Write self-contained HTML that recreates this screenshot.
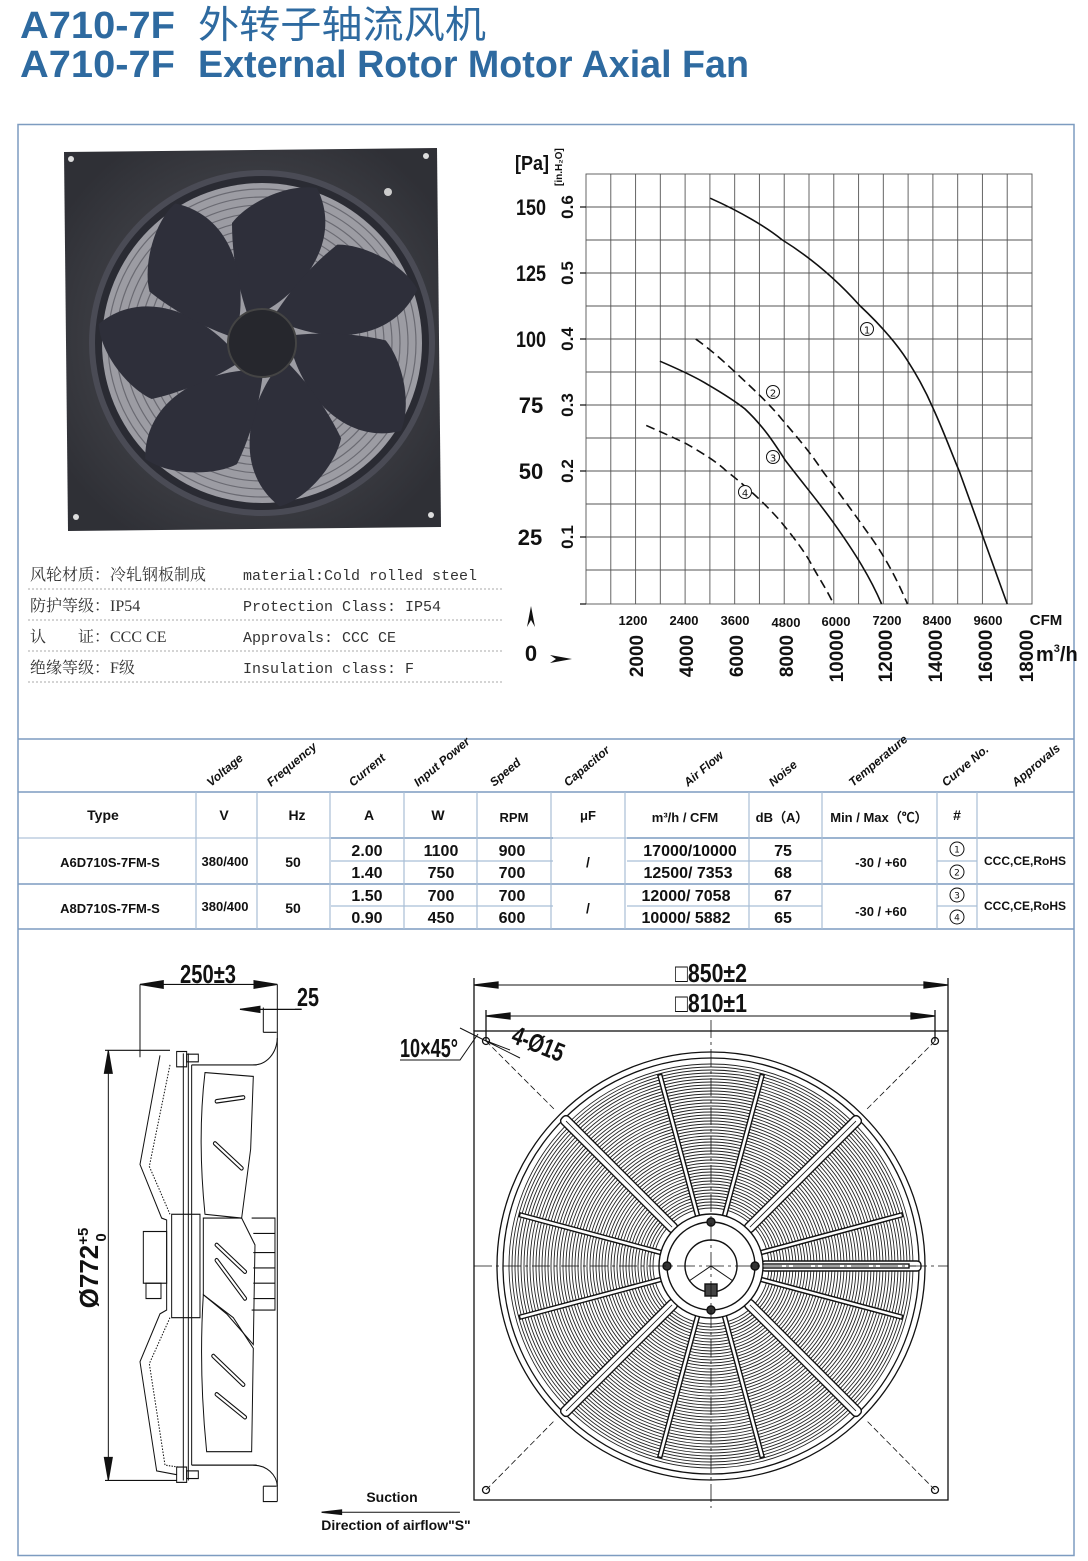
<!DOCTYPE html>
<html><head><meta charset="utf-8"><style>
html,body{margin:0;padding:0;background:#fff}
svg{display:block}
.n{font-family:"Liberation Sans Narrow","Liberation Sans",sans-serif;font-weight:bold;fill:#111}
.cj{font-family:"Liberation Serif","Noto Serif CJK SC",serif;fill:#333;font-size:16px}
.mo{font-family:"Liberation Mono",monospace;fill:#333;font-size:15px}
</style></head><body>
<svg width="1088" height="1561" viewBox="0 0 1088 1561" xmlns="http://www.w3.org/2000/svg">
<defs>
<radialGradient id="pg" cx="50%" cy="50%" r="60%"><stop offset="0" stop-color="#55565c"/><stop offset="1" stop-color="#2f3036"/></radialGradient>
<path id="blade" d="M0,-30 C45,-55 80,-105 55,-155 C25,-160 -15,-140 -30,-120 C-30,-90 -25,-60 -15,-30 Z" fill="#2e2f3a"/>
</defs>
<!-- Title -->
<text x="20" y="38" font-family="Liberation Sans,sans-serif" font-weight="bold" font-size="38" fill="#2e6aa0" textLength="155" lengthAdjust="spacingAndGlyphs">A710-7F</text>
<text x="198" y="38" font-family="Noto Sans CJK SC,sans-serif" font-size="38" fill="#2e6aa0" textLength="288" lengthAdjust="spacingAndGlyphs">外转子轴流风机</text>
<text x="20" y="77" font-family="Liberation Sans,sans-serif" font-weight="bold" font-size="38" fill="#2e6aa0" textLength="155" lengthAdjust="spacingAndGlyphs">A710-7F</text>
<text x="198" y="77" font-family="Liberation Sans,sans-serif" font-weight="bold" font-size="38" fill="#2e6aa0" textLength="551" lengthAdjust="spacingAndGlyphs">External Rotor Motor Axial Fan</text>
<!-- frame -->
<rect x="18" y="124.5" width="1056" height="1431" fill="none" stroke="#7d9cc0" stroke-width="1.5"/>

<!-- Photo -->
<path d="M64,152 L437,148 L441,527 L68,531 Z" fill="url(#pg)"/>
<circle cx="71" cy="159" r="3" fill="#ddd"/><circle cx="426" cy="156" r="3" fill="#ddd"/><circle cx="76" cy="517" r="3" fill="#ddd"/><circle cx="431" cy="515" r="3" fill="#ddd"/>
<circle cx="388" cy="192" r="4" fill="#ccc"/>
<circle cx="262" cy="343" r="170" fill="#2a2b33" stroke="#4a4b55" stroke-width="6"/>
<circle cx="262" cy="343" r="160" fill="#9c9ca3"/>
<g fill="none" stroke="#6a6a72" stroke-width="1.2">
<circle cx="262" cy="343" r="154"/><circle cx="262" cy="343" r="146"/><circle cx="262" cy="343" r="138"/><circle cx="262" cy="343" r="130"/><circle cx="262" cy="343" r="122"/><circle cx="262" cy="343" r="114"/><circle cx="262" cy="343" r="106"/><circle cx="262" cy="343" r="98"/><circle cx="262" cy="343" r="90"/><circle cx="262" cy="343" r="82"/><circle cx="262" cy="343" r="74"/><circle cx="262" cy="343" r="66"/><circle cx="262" cy="343" r="58"/>
</g>
<g transform="translate(262,343)">
<use href="#blade"/><use href="#blade" transform="rotate(51.4)"/><use href="#blade" transform="rotate(102.8)"/><use href="#blade" transform="rotate(154.3)"/><use href="#blade" transform="rotate(205.7)"/><use href="#blade" transform="rotate(257.1)"/><use href="#blade" transform="rotate(308.6)"/>
</g>
<circle cx="262" cy="343" r="34" fill="#26272d" stroke="#444" stroke-width="2"/>

<!-- spec text -->
<text class="cj" x="30" y="580">风轮材质：冷轧钢板制成</text><text class="mo" x="243" y="580">material:Cold rolled steel</text>
<text class="cj" x="30" y="611">防护等级：IP54</text><text class="mo" x="243" y="611">Protection Class: IP54</text>
<text class="cj" x="30" y="642">认　　证：CCC CE</text><text class="mo" x="243" y="642">Approvals: CCC  CE</text>
<text class="cj" x="30" y="673">绝缘等级：F级</text><text class="mo" x="243" y="673">Insulation class: F</text>
<g stroke="#aaa" stroke-dasharray="2,2" stroke-width="1">
<line x1="28" y1="589" x2="502" y2="589"/><line x1="28" y1="620" x2="502" y2="620"/><line x1="28" y1="651" x2="502" y2="651"/><line x1="28" y1="682" x2="502" y2="682"/>
</g>

<!-- Chart grid -->
<g stroke="#555" stroke-width="0.9" fill="none">
<rect x="586" y="174" width="446" height="430"/>
<path d="M610.8,174V604M635.6,174V604M660.3,174V604M685.1,174V604M709.9,174V604M734.7,174V604M759.4,174V604M784.2,174V604M809,174V604M833.8,174V604M858.6,174V604M883.3,174V604M908.1,174V604M932.9,174V604M957.7,174V604M982.4,174V604M1007.2,174V604"/>
<path d="M586,207H1032M586,240H1032M586,273H1032M586,306H1032M586,339H1032M586,372H1032M586,405H1032M586,438H1032M586,471H1032M586,504H1032M586,537H1032M586,570H1032"/>
</g>
<g stroke="#111" stroke-width="1.2"><path d="M580,207H586M580,273H586M580,339H586M580,405H586M580,471H586M580,537H586M580,604H586"/></g>
<svg x="586" y="174" width="446" height="430" viewBox="230 100 1207 1245" preserveAspectRatio="none" overflow="visible">
<g fill="none" stroke="#111" stroke-width="1.6">
<path vector-effect="non-scaling-stroke" d="M566,170 C650,210 720,255 760,290 C850,350 920,420 970,480 C1030,540 1070,590 1100,640 C1130,690 1150,730 1170,780 C1200,850 1220,910 1240,960 L1370,1345"/>
<path vector-effect="non-scaling-stroke" stroke-dasharray="9,5" d="M527,578 C570,610 610,650 640,680 C690,730 730,770 760,810 C800,860 840,910 870,960 C920,1030 960,1090 1000,1150 C1040,1210 1070,1270 1100,1345"/>
<path vector-effect="non-scaling-stroke" d="M430,642 C480,665 530,690 560,710 C600,735 630,755 660,780 C710,830 740,880 770,930 C820,1000 860,1050 900,1110 C960,1200 1000,1270 1030,1345"/>
<path vector-effect="non-scaling-stroke" stroke-dasharray="9,5" d="M393,828 C440,850 470,865 500,880 C540,905 580,930 610,960 C670,1010 720,1060 760,1110 C790,1150 820,1190 840,1230 C860,1270 880,1300 900,1345"/>
</g>
</svg>
<g font-family="DejaVu Sans,sans-serif" font-size="13" fill="#111" text-anchor="middle">
<circle cx="867" cy="329" r="6.5" fill="#fff" stroke="#111"/><text x="867" y="333.5" font-size="10">1</text>
<circle cx="773" cy="392" r="6.5" fill="#fff" stroke="#111"/><text x="773" y="396.5" font-size="10">2</text>
<circle cx="773" cy="457" r="6.5" fill="#fff" stroke="#111"/><text x="773" y="461.5" font-size="10">3</text>
<circle cx="745" cy="492" r="6.5" fill="#fff" stroke="#111"/><text x="745" y="496.5" font-size="10">4</text>
</g>
<!-- chart labels -->
<text class="n" x="515" y="170" font-size="20" textLength="34" lengthAdjust="spacingAndGlyphs">[Pa]</text>
<text class="n" x="562" y="186" font-size="10" transform="rotate(-90 562 186)">[in.H₂O]</text>
<g class="n" font-size="22" text-anchor="middle">
<text x="531" y="215" textLength="30" lengthAdjust="spacingAndGlyphs">150</text><text x="531" y="281" textLength="30" lengthAdjust="spacingAndGlyphs">125</text><text x="531" y="347" textLength="30" lengthAdjust="spacingAndGlyphs">100</text><text x="531" y="413">75</text><text x="531" y="479">50</text><text x="530" y="545">25</text><text x="531" y="661">0</text>
</g>
<g class="n" font-size="17" text-anchor="middle">
<text transform="translate(573,207) rotate(-90)">0.6</text>
<text transform="translate(573,273) rotate(-90)">0.5</text>
<text transform="translate(573,339) rotate(-90)">0.4</text>
<text transform="translate(573,405) rotate(-90)">0.3</text>
<text transform="translate(573,471) rotate(-90)">0.2</text>
<text transform="translate(573,537) rotate(-90)">0.1</text>
</g>
<g class="n" font-size="13" text-anchor="middle">
<text x="633" y="625">1200</text><text x="684" y="625">2400</text><text x="735" y="625">3600</text><text x="786" y="627">4800</text><text x="836" y="626">6000</text><text x="887" y="625">7200</text><text x="937" y="625">8400</text><text x="988" y="625">9600</text><text x="1046" y="625" font-size="15">CFM</text>
</g>
<g class="n" font-size="19" text-anchor="middle">
<text transform="translate(643,656) rotate(-90)">2000</text>
<text transform="translate(693,656) rotate(-90)">4000</text>
<text transform="translate(743,656) rotate(-90)">6000</text>
<text transform="translate(793,656) rotate(-90)">8000</text>
<text transform="translate(843,656) rotate(-90)">10000</text>
<text transform="translate(892,656) rotate(-90)">12000</text>
<text transform="translate(942,656) rotate(-90)">14000</text>
<text transform="translate(992,656) rotate(-90)">16000</text>
<text transform="translate(1033,656) rotate(-90)">18000</text>
</g>
<text class="n" x="1036" y="661" font-size="20">m<tspan font-size="11" dy="-9">3</tspan><tspan dy="9">/h</tspan></text>
<path d="M531,606 L527,627 L531,620 L535,627 Z" fill="#111"/>
<path d="M572,659 L550,655 L556,659 L550,663 Z" fill="#111"/>

<!-- Table -->
<g stroke="#7d9cc0" stroke-width="1.5" fill="none">
<line x1="18" y1="739" x2="1074" y2="739"/><line x1="18" y1="792" x2="1074" y2="792"/><line x1="18" y1="929" x2="1074" y2="929"/>
<line x1="18" y1="884" x2="1074" y2="884"/>
<line x1="331" y1="838" x2="553" y2="838"/><line x1="627" y1="838" x2="1074" y2="838"/><line x1="18" y1="838" x2="1074" y2="838" stroke-width="0.8"/>
</g>
<g stroke="#a9bfd6" stroke-width="1.2">
<line x1="331" y1="861" x2="553" y2="861"/><line x1="627" y1="861" x2="822" y2="861"/><line x1="937" y1="861" x2="977" y2="861"/>
<line x1="331" y1="906" x2="553" y2="906"/><line x1="627" y1="906" x2="822" y2="906"/><line x1="937" y1="906" x2="977" y2="906"/>
<path d="M196,792V929M257,792V929M330,792V929M404,792V929M477,792V929M551,792V929M625,792V929M749,792V929M822,792V929M937,792V929M977,792V929"/>
</g>
<g class="n" font-size="12" font-style="italic">
<text transform="translate(211,787) rotate(-40)">Voltage</text>
<text transform="translate(271,787) rotate(-40)">Frequency</text>
<text transform="translate(353,787) rotate(-40)">Current</text>
<text transform="translate(418,787) rotate(-40)">Input Power</text>
<text transform="translate(494,787) rotate(-40)">Speed</text>
<text transform="translate(568,787) rotate(-40)">Capacitor</text>
<text transform="translate(688,787) rotate(-40)">Air Flow</text>
<text transform="translate(773,787) rotate(-40)">Noise</text>
<text transform="translate(853,787) rotate(-40)">Temperature</text>
<text transform="translate(946,787) rotate(-40)">Curve No.</text>
<text transform="translate(1016,787) rotate(-40)">Approvals</text>
</g>
<g class="n" font-size="14" text-anchor="middle">
<text x="103" y="820">Type</text><text x="224" y="820">V</text><text x="297" y="820">Hz</text><text x="369" y="820">A</text><text x="438" y="820">W</text><text x="514" y="822" font-size="13">RPM</text><text x="588" y="820" font-size="13">μF</text>
<text x="685" y="822" font-size="13">m³/h  /  CFM</text><text x="782" y="822" font-size="13">dB（A）</text><text x="879" y="822" font-size="13">Min / Max（℃）</text><text x="957" y="820">#</text>
<text x="110" y="867" font-size="13">A6D710S-7FM-S</text><text x="225" y="866" font-size="13">380/400</text><text x="293" y="867">50</text>
<text x="367" y="856" font-size="16">2.00</text><text x="367" y="878" font-size="16">1.40</text>
<text x="441" y="856" font-size="16">1100</text><text x="441" y="878" font-size="16">750</text>
<text x="512" y="856" font-size="16">900</text><text x="512" y="878" font-size="16">700</text>
<text x="588" y="867">/</text>
<text x="690" y="856" font-size="16">17000/10000</text><text x="688" y="878" font-size="16">12500/ 7353</text>
<text x="783" y="856" font-size="16">75</text><text x="783" y="878" font-size="16">68</text>
<text x="881" y="867" font-size="13">-30 / +60</text>
<text x="1025" y="865" font-size="12">CCC,CE,RoHS</text>
<text x="110" y="913" font-size="13">A8D710S-7FM-S</text><text x="225" y="911" font-size="13">380/400</text><text x="293" y="913">50</text>
<text x="367" y="901" font-size="16">1.50</text><text x="367" y="923" font-size="16">0.90</text>
<text x="441" y="901" font-size="16">700</text><text x="441" y="923" font-size="16">450</text>
<text x="512" y="901" font-size="16">700</text><text x="512" y="923" font-size="16">600</text>
<text x="588" y="913">/</text>
<text x="686" y="901" font-size="16">12000/ 7058</text><text x="686" y="923" font-size="16">10000/ 5882</text>
<text x="783" y="901" font-size="16">67</text><text x="783" y="923" font-size="16">65</text>
<text x="881" y="916" font-size="13">-30 / +60</text>
<text x="1025" y="910" font-size="12">CCC,CE,RoHS</text>
</g>
<g font-family="DejaVu Sans,sans-serif" fill="#111" text-anchor="middle" font-size="9">
<circle cx="957" cy="849" r="7" fill="none" stroke="#111"/><text x="957" y="852.5">1</text>
<circle cx="957" cy="872" r="7" fill="none" stroke="#111"/><text x="957" y="875.5">2</text>
<circle cx="957" cy="895" r="7" fill="none" stroke="#111"/><text x="957" y="898.5">3</text>
<circle cx="957" cy="917" r="7" fill="none" stroke="#111"/><text x="957" y="920.5">4</text>
</g>

<!-- Side view -->
<g transform="translate(60,950) scale(0.3333,0.383)" fill="none" stroke="#111" stroke-width="3">
<path d="M240,90H652M240,90V280M652,90V1440"/>
<path d="M240,90 l70,-10 v20 z M652,90 l-70,-10 v20 z" fill="#111"/>
<path d="M540,155H725M610,150V215M610,215H650M610,1400H650M610,1400V1440H652"/>
<path d="M540,155 l60,-8 v16 z M725,155 l-20,0" fill="#111"/>
<path d="M135,262H330M135,1385H350M145,262V1385"/>
<path d="M145,262 l-12,60 h24 z M145,1385 l-12,-60 h24 z" fill="#111"/>
<path d="M580,300 C620,300 650,270 652,230M580,1345 C620,1345 650,1370 652,1400"/>
<path d="M395,300H590M395,1345H590"/>
<path d="M300,275 L240,560 L305,700 L320,705 V940 L300,950 L240,1075 L290,1360 L350,1370"/>
<path d="M330,300 L268,565 L330,690 M330,960 L268,1080 L315,1345 L355,1350" stroke-dasharray="4,4"/>
<path d="M370,270V1385M385,270V1385M395,300V1345"/>
<rect x="350" y="265" width="30" height="40"/><rect x="350" y="1350" width="30" height="40"/>
<rect x="380" y="272" width="35" height="20"/><rect x="380" y="1360" width="35" height="20"/>
<rect x="335" y="690" width="85" height="270"/>
<rect x="250" y="735" width="70" height="135"/><rect x="258" y="870" width="45" height="40"/>
<path d="M435,320 L580,330 L572,520 L545,700 L435,690 C420,560 420,430 435,320Z"/>
<path d="M430,700 L545,700 L585,770 L580,1030 L500,950 L430,900Z"/>
<path d="M430,900 L520,960 L580,1040 L575,1310 L440,1310 C425,1180 420,1040 430,900Z"/>
<path d="M575,700H645V940H575M580,740H645M580,790H645M580,830H645M580,870H645M580,910H645"/>
<path d="M470,395 L550,385 M465,505 L545,570 M470,770 L555,840 M470,810 L555,910 M460,1060 L550,1135 M470,1160 L555,1220" stroke-width="12" stroke-linecap="round"/>
<path d="M470,395 L550,385 M465,505 L545,570 M470,770 L555,840 M470,810 L555,910 M460,1060 L550,1135 M470,1160 L555,1220" stroke-width="6" stroke="#fff" stroke-linecap="round"/>
<path d="M785,1468H1200" stroke-width="2.5"/><path d="M785,1468 l60,-6 v12z" fill="#111"/>
</g>
<g class="n" text-anchor="middle">
<text x="208" y="983" font-size="26" textLength="56" lengthAdjust="spacingAndGlyphs">250±3</text>
<text x="308" y="1006" font-size="26" textLength="22" lengthAdjust="spacingAndGlyphs">25</text>
<text x="98" y="1268" font-size="26" transform="rotate(-90 98 1268)">Ø772<tspan font-size="15" dy="-10">+5</tspan><tspan font-size="15" dx="-14" dy="18">0</tspan></text>
<text x="392" y="1502" font-size="14">Suction</text>
<text x="396" y="1530" font-size="14">Direction of airflow"S"</text>
</g>

<!-- Front view -->
<g fill="none" stroke="#111" stroke-width="1.3">
<rect x="474" y="1031" width="474" height="469"/>
<path d="M474,978V1031M948,978V1031M486,1010V1041M935,1010V1041"/>
<path d="M474,985H948M486,1016H935" stroke-width="1"/>
<path d="M474,985 l24,-3 v6z M948,985 l-24,-3 v6z M486,1016 l24,-3 v6z M935,1016 l-24,-3 v6z" fill="#111"/>
<path d="M400,1060H460L478,1034" stroke-width="1"/>
<path d="M460,1028 L484,1040 L510,1050 M476,1036 L520,1058" stroke-width="1"/>
<path d="M486,1041 L555,1110 M935,1041 L866,1110 M486,1490 L555,1420 M935,1490 L866,1420" stroke-dasharray="6,3" stroke-width="0.8"/>
<circle cx="486" cy="1041" r="3.5"/><circle cx="935" cy="1041" r="3.5"/><circle cx="486" cy="1490" r="3.5"/><circle cx="935" cy="1490" r="3.5"/>
<circle cx="711" cy="1266" r="214"/><circle cx="711" cy="1266" r="208"/>
</g>
<g fill="none" stroke="#222" stroke-width="0.9">
<circle cx="711" cy="1266" r="202"/><circle cx="711" cy="1266" r="199"/><circle cx="711" cy="1266" r="196"/><circle cx="711" cy="1266" r="193"/><circle cx="711" cy="1266" r="190"/><circle cx="711" cy="1266" r="187"/><circle cx="711" cy="1266" r="184"/><circle cx="711" cy="1266" r="181"/><circle cx="711" cy="1266" r="178"/><circle cx="711" cy="1266" r="175"/><circle cx="711" cy="1266" r="172"/><circle cx="711" cy="1266" r="169"/><circle cx="711" cy="1266" r="166"/><circle cx="711" cy="1266" r="163"/><circle cx="711" cy="1266" r="160"/><circle cx="711" cy="1266" r="157"/><circle cx="711" cy="1266" r="154"/><circle cx="711" cy="1266" r="151"/><circle cx="711" cy="1266" r="148"/><circle cx="711" cy="1266" r="145"/><circle cx="711" cy="1266" r="142"/><circle cx="711" cy="1266" r="139"/><circle cx="711" cy="1266" r="136"/><circle cx="711" cy="1266" r="133"/><circle cx="711" cy="1266" r="130"/><circle cx="711" cy="1266" r="127"/><circle cx="711" cy="1266" r="124"/><circle cx="711" cy="1266" r="121"/><circle cx="711" cy="1266" r="118"/><circle cx="711" cy="1266" r="115"/><circle cx="711" cy="1266" r="112"/><circle cx="711" cy="1266" r="109"/><circle cx="711" cy="1266" r="106"/><circle cx="711" cy="1266" r="103"/><circle cx="711" cy="1266" r="100"/><circle cx="711" cy="1266" r="97"/><circle cx="711" cy="1266" r="94"/><circle cx="711" cy="1266" r="91"/><circle cx="711" cy="1266" r="88"/><circle cx="711" cy="1266" r="85"/><circle cx="711" cy="1266" r="82"/><circle cx="711" cy="1266" r="79"/><circle cx="711" cy="1266" r="76"/><circle cx="711" cy="1266" r="73"/><circle cx="711" cy="1266" r="70"/><circle cx="711" cy="1266" r="67"/><circle cx="711" cy="1266" r="64"/><circle cx="711" cy="1266" r="61"/><circle cx="711" cy="1266" r="58"/>
</g>
<g transform="translate(711,1266)" stroke="#111" stroke-width="1.4" fill="#fff">
<g id="bar"><rect x="50" y="-5" width="160" height="10" rx="4"/><line x1="55" y1="0" x2="205" y2="0" stroke-width="0.8"/></g>
<use href="#bar" transform="rotate(45)"/><use href="#bar" transform="rotate(135)"/><use href="#bar" transform="rotate(-45)"/><use href="#bar" transform="rotate(-135)"/>
<g id="sp"><rect x="50" y="-2" width="148" height="4"/></g>
<use href="#sp" transform="rotate(-75)"/><use href="#sp" transform="rotate(-105)"/><use href="#sp" transform="rotate(75)"/><use href="#sp" transform="rotate(105)"/>
<use href="#sp" transform="rotate(-15)"/><use href="#sp" transform="rotate(15)"/><use href="#sp" transform="rotate(165)"/><use href="#sp" transform="rotate(195)"/>
<circle r="52"/><circle r="44"/><circle r="26"/>
<circle cx="0" cy="-44" r="4" fill="#333"/><circle cx="0" cy="44" r="4" fill="#333"/><circle cx="-44" cy="0" r="4" fill="#333"/><circle cx="44" cy="0" r="4" fill="#333"/>
<path d="M0,0 L-22,15 M0,0 L22,15" fill="none" stroke-width="1"/>
<rect x="-6" y="18" width="12" height="12" fill="#444"/>
</g>
<path d="M474,1266H948M711,1020V1508" stroke="#111" stroke-width="0.8" stroke-dasharray="18,4,3,4" fill="none"/>
<g class="n" font-size="26">
<text x="675" y="982" textLength="72" lengthAdjust="spacingAndGlyphs">□850±2</text>
<text x="675" y="1012" textLength="72" lengthAdjust="spacingAndGlyphs">□810±1</text>
<text x="400" y="1057" textLength="58" lengthAdjust="spacingAndGlyphs">10×45°</text>
<text x="510" y="1042" transform="rotate(22 510 1042)" textLength="54" lengthAdjust="spacingAndGlyphs">4-Ø15</text>
</g>
</svg>
</body></html>
